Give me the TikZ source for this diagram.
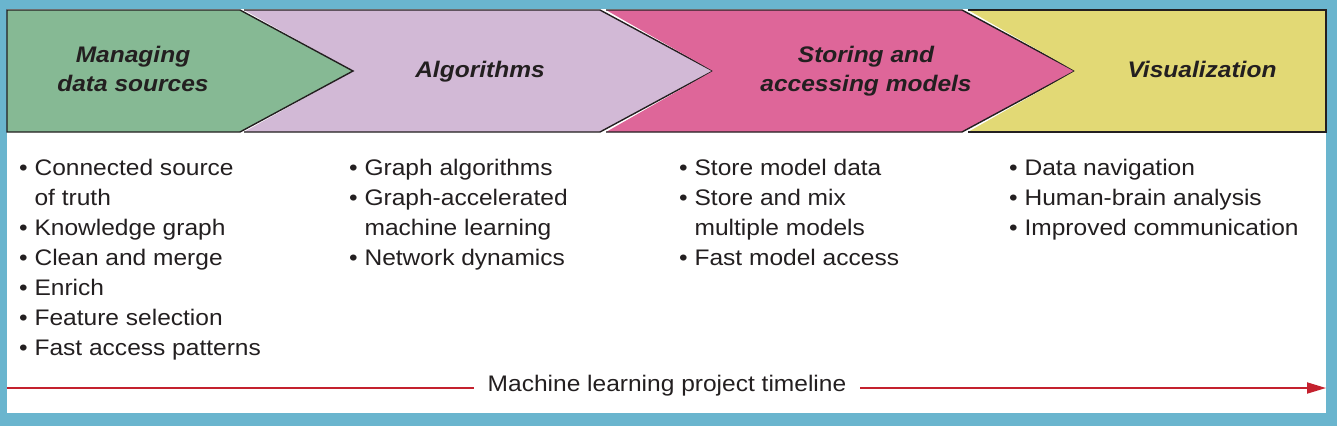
\documentclass[tikz,border=0pt]{standalone}
\usepackage{fontspec}
\setmainfont{Liberation Sans}[FakeStretch=1.09]
\usepackage{tikz}
\usetikzlibrary{arrows.meta,positioning}
\definecolor{frame}{HTML}{6AB5CE}
\definecolor{srcc}{HTML}{86B994}
\definecolor{algc}{HTML}{D2B9D6}
\definecolor{modc}{HTML}{DE6699}
\definecolor{visc}{HTML}{E2D975}
\definecolor{ink}{HTML}{231F20}
\definecolor{tline}{HTML}{C4212E}
\tikzset{
  edge/.style={draw=ink,line width=1.4pt,line join=miter},
  head/.style={font=\fontsize{22.5}{29}\selectfont\bfseries\itshape,text=ink,align=center,inner sep=0pt,anchor=base},
  items/.style={font=\fontsize{22.5}{30}\selectfont,text=ink,align=left,inner sep=0pt,anchor=base west},
  tl/.style={line width=1.8pt,draw=tline},
}
\newcommand{\itm}{\textbullet\ }
\newcommand{\cont}{\phantom{\textbullet}\ }

\begin{document}
\begin{tikzpicture}[x=1pt,y=-1pt]
  % frame
  \fill[frame] (0,0) rectangle (1337,426);
  \fill[white] (7,9) rectangle (1326,413);
  \useasboundingbox (0,0) rectangle (1337,426);

  % stages
  \fill[algc] (244,10) -- (600,10) -- (713,71) -- (600,132) -- (244,132) -- (353,71) -- cycle;
  \draw[edge] (244,10) -- (600,10) -- (713,71) -- (600,132) -- (244,132);
  \fill[modc] (606,10) -- (962,10) -- (1075,71) -- (962,132) -- (606,132) -- (713,71) -- cycle;
  \draw[edge] (606,10) -- (962,10) -- (1075,71) -- (962,132) -- (606,132);
  \fill[visc] (968,10) -- (1326,10) -- (1326,132) -- (968,132) -- (1075,71) -- cycle;
  \draw[edge] (968,10) -- (1326,10) -- (1326,132) -- (968,132);
  \draw[edge,fill=srcc] (7,10) -- (240,10) -- (353,71) -- (240,132) -- (7,132) -- cycle;

  \node[head] (h1) at (133,91) {Managing\\data sources};
  \node[head] (h2) at (480,77) {Algorithms};
  \node[head] (h3) at (866,91) {Storing and\\accessing models};
  \node[head] (h4) at (1202,77) {Visualization};

  % bullet lists
  \node[items] (l1) at (19,355) {\itm Connected source\\\cont of truth\\\itm Knowledge graph\\\itm Clean and merge\\\itm Enrich\\\itm Feature selection\\\itm Fast access patterns};
  \node[items] (l2) at (349,265) {\itm Graph algorithms\\\itm Graph-accelerated\\\cont machine learning\\\itm Network dynamics};
  \node[items] (l3) at (679,265) {\itm Store model data\\\itm Store and mix\\\cont multiple models\\\itm Fast model access};
  \node[items] (l4) at (1009,235) {\itm Data navigation\\\itm Human-brain analysis\\\itm Improved communication};

  % timeline
  \coordinate (ts) at (7,388);
  \coordinate (te) at (1326,388);
  \node[font=\fontsize{22.5}{30}\selectfont,text=ink,inner sep=0pt] (tlab) at (667,386) {Machine learning project timeline};
  \draw[tl] (ts) -- ([xshift=-14pt]tlab.west |- ts);
  \draw[tl,-{Triangle[length=19pt,width=11pt]}] ([xshift=14pt]tlab.east |- te) -- (te);
\end{tikzpicture}
\end{document}
